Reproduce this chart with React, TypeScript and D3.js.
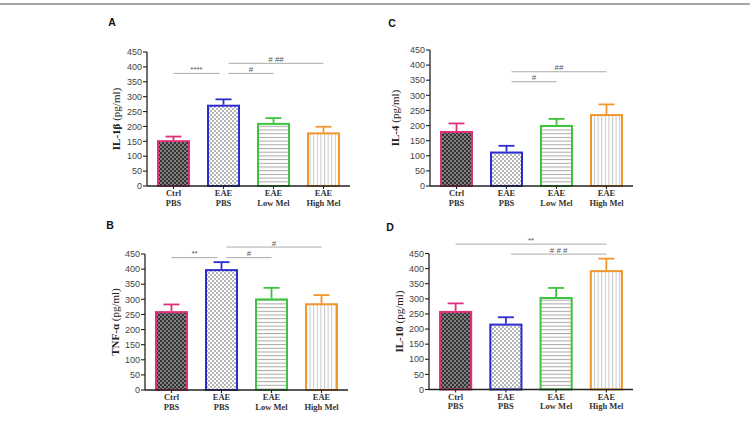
import React from "react";
import * as d3 from "d3";

// ---------- data ----------
const groupLine1 = ["Ctrl", "EAE", "EAE", "EAE"];
const groupLine2 = ["PBS", "PBS", "Low Mel", "High Mel"];
const yTicks = [0, 50, 100, 150, 200, 250, 300, 350, 400, 450];

const il1bMean = [154, 273, 212, 180];
const il1bErr = [12, 18, 16, 19];
const il4Mean = [182, 114, 202, 238];
const il4Err = [25, 19, 20, 32];
const tnfMean = [261, 400, 303, 287];
const tnfErr = [22, 23, 35, 27];
const il10Mean = [260, 218, 306, 395];
const il10Err = [25, 21, 30, 38];

// significance brackets: [fromGroup, toGroup, level, label]
const il1bSig: [number, number, number, string][] = [
  [0, 1, 378, "****"],
  [1, 2, 378, "#"],
  [1, 3, 412, "# ##"],
];
const il4Sig: [number, number, number, string][] = [
  [1, 2, 345, "#"],
  [1, 3, 378, "##"],
];
const tnfSig: [number, number, number, string][] = [
  [0, 1, 438, "**"],
  [1, 2, 438, "#"],
  [1, 3, 473, "#"],
];
const il10Sig: [number, number, number, string][] = [
  [0, 3, 481, "**"],
  [1, 3, 448, "# # #"],
];

// ---------- styles ----------
const colors = ["#e0307c", "#2b2bd4", "#3cc43c", "#f2962c"];
const fills = ["url(#pDark)", "url(#pLight)", "url(#pHoriz)", "url(#pVert)"];

type PanelProps = {
  letter: string;
  labelBold: string;
  labelRest: string;
  mean: number[];
  err: number[];
  sig: [number, number, number, string][];
  axisX: number;
  xEnd: number;
  yTop: number;
  y0: number;
  letterX: number;
  letterY: number;
  labelX: number;
};

function Panel(p: PanelProps) {
  const y = d3.scaleLinear().domain([0, 450]).range([p.y0, p.yTop]);
  const x = d3
    .scaleBand<string>()
    .domain(["0", "1", "2", "3"])
    .range([p.axisX, p.xEnd])
    .paddingInner(0.34)
    .paddingOuter(0.2);
  const bw = x.bandwidth();
  const cx = (i: number) => (x(String(i)) as number) + bw / 2;
  const labelY = (p.yTop + p.y0) / 2;
  const serif = "'Liberation Serif', 'Times New Roman', serif";
  const sans = "'Liberation Sans', Arial, sans-serif";
  return (
    <g>
      <text x={p.letterX} y={p.letterY} fontFamily={sans} fontWeight="bold" fontSize={10.5} textAnchor="middle" fill="#111">
        {p.letter}
      </text>
      {/* y label */}
      <text
        transform={`translate(${p.labelX},${labelY}) rotate(-90)`}
        textAnchor="middle"
        fontFamily={serif}
        fontSize={11}
        fill="#222"
      >
        <tspan fontWeight="bold">{p.labelBold}</tspan>
        <tspan> {p.labelRest}</tspan>
      </text>
      {/* bars */}
      {p.mean.map((m, i) => {
        const x0 = x(String(i)) as number;
        return (
          <g key={i}>
            <line x1={cx(i)} x2={cx(i)} y1={y(m)} y2={y(m + p.err[i])} stroke={colors[i]} strokeWidth={1.8} />
            <line x1={cx(i) - 8} x2={cx(i) + 8} y1={y(m + p.err[i])} y2={y(m + p.err[i])} stroke={colors[i]} strokeWidth={1.8} />
            <rect
              x={x0 + 1}
              y={y(m) + 1}
              width={bw - 2}
              height={p.y0 - y(m) - 1}
              fill={fills[i]}
              stroke={colors[i]}
              strokeWidth={2}
            />
          </g>
        );
      })}
      {/* y axis */}
      <line x1={p.axisX} x2={p.axisX} y1={p.yTop} y2={p.y0} stroke="#222" strokeWidth={1.3} />
      {yTicks.map((t) => (
        <g key={t}>
          <line x1={p.axisX - 4} x2={p.axisX} y1={y(t)} y2={y(t)} stroke="#222" strokeWidth={1.1} />
          <text x={p.axisX - 5} y={y(t) + 3.2} textAnchor="end" fontFamily={sans} fontSize={9} fill="#444">
            {t}
          </text>
        </g>
      ))}
      {/* x axis */}
      <line x1={p.axisX} x2={p.xEnd} y1={p.y0} y2={p.y0} stroke="#222" strokeWidth={1.4} />
      {groupLine1.map((g, i) => (
        <g key={i}>
          <line x1={cx(i)} x2={cx(i)} y1={p.y0} y2={p.y0 + 3} stroke="#222" strokeWidth={1.1} />
          <text x={cx(i)} y={p.y0 + 10} textAnchor="middle" fontFamily={serif} fontWeight="bold" fontSize={8.5} fill="#333">
            {g}
          </text>
          <text x={cx(i)} y={p.y0 + 19.5} textAnchor="middle" fontFamily={serif} fontWeight="bold" fontSize={8.5} fill="#333">
            {groupLine2[i]}
          </text>
        </g>
      ))}
      {/* significance */}
      {p.sig.map(([a, b, lvl, lab], k) => {
        const x1 = cx(a) + (a === 1 ? 5 : 0);
        const x2 = cx(b) - (b === 1 ? 4 : 0);
        return (
          <g key={k}>
            <line x1={x1} x2={x2} y1={y(lvl)} y2={y(lvl)} stroke="#aaa" strokeWidth={1} />
            <text x={(x1 + x2) / 2} y={y(lvl) - 1.5} textAnchor="middle" fontFamily={sans} fontSize={8} fill="#555">
              {lab}
            </text>
          </g>
        );
      })}
    </g>
  );
}

export default function App() {
  return (
    <svg
      width={750}
      height={422}
      style={{ position: "absolute", left: 0, top: 0, background: "#fff" }}
    >
      <defs>
        <pattern id="pDark" width={4} height={4} patternUnits="userSpaceOnUse">
          <rect width={4} height={4} fill="#808080" />
          <rect width={2} height={2} fill="#333" />
          <rect x={2} y={2} width={2} height={2} fill="#333" />
        </pattern>
        <pattern id="pLight" width={4} height={4} patternUnits="userSpaceOnUse">
          <rect width={4} height={4} fill="#fff" />
          <rect width={2} height={2} fill="#b5b5b5" />
          <rect x={2} y={2} width={2} height={2} fill="#b5b5b5" />
        </pattern>
        <pattern id="pHoriz" width={4} height={3.7} patternUnits="userSpaceOnUse">
          <rect width={4} height={3.7} fill="#fff" />
          <rect y={0} width={4} height={1} fill="#a8a8a8" />
        </pattern>
        <pattern id="pVert" width={3.6} height={4} patternUnits="userSpaceOnUse">
          <rect width={3.6} height={4} fill="#fff" />
          <rect x={0} width={1} height={4} fill="#c8c8c8" />
        </pattern>
      </defs>
      <line x1={0} x2={750} y1={4} y2={4} stroke="#888" strokeWidth={1.5} />
      <Panel letter="A" labelBold="IL-1β" labelRest="(pg/ml)" mean={il1bMean} err={il1bErr} sig={il1bSig}
        axisX={147} xEnd={350} yTop={52} y0={186} letterX={112} letterY={26} labelX={120} />
      <Panel letter="C" labelBold="IL-4" labelRest="(pg/ml)" mean={il4Mean} err={il4Err} sig={il4Sig}
        axisX={430} xEnd={633} yTop={50} y0={186} letterX={392} letterY={26.5} labelX={399} />
      <Panel letter="B" labelBold="TNF-α" labelRest="(pg/ml)" mean={tnfMean} err={tnfErr} sig={tnfSig}
        axisX={145} xEnd={348} yTop={254} y0={390} letterX={110} letterY={229} labelX={119} />
      <Panel letter="D" labelBold="IL-10" labelRest="(pg/ml)" mean={il10Mean} err={il10Err} sig={il10Sig}
        axisX={429} xEnd={633} yTop={253.5} y0={389.5} letterX={390} letterY={230.5} labelX={403} />
    </svg>
  );
}
